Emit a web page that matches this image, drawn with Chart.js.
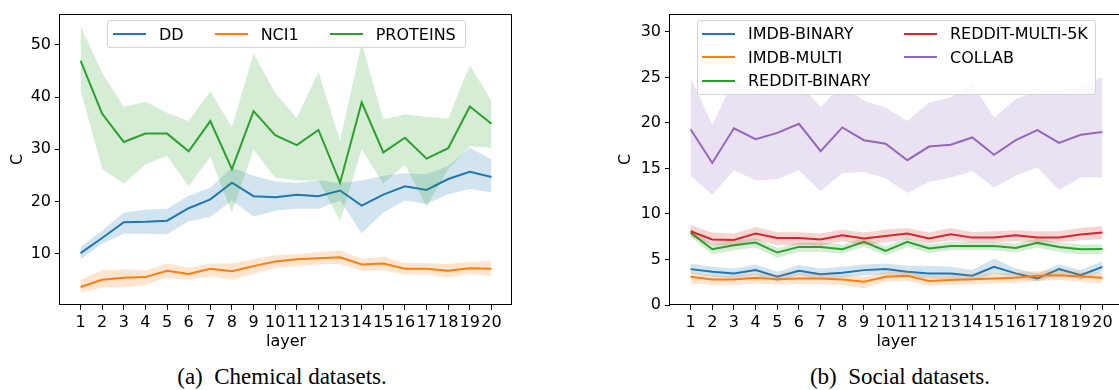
<!DOCTYPE html>
<html>
<head>
<meta charset="utf-8">
<script src="https://cdn.jsdelivr.net/npm/chart.js@4.4.0/dist/chart.umd.min.js"></script>
<style>
  html, body { margin: 0; padding: 0; background: #fff; }
  body { width: 1119px; height: 390px; position: relative; overflow: hidden; font-family: "DejaVu Sans", sans-serif; }
  canvas { position: absolute; top: 0; }
  #chartA { left: 0; }
  #chartB { left: 610px; }
  .legend { position: absolute; box-sizing: border-box; border: 1px solid #d4d4d4; border-radius: 3px;
            background: rgba(255, 255, 255, 0.8); font-size: 16px; color: #000; z-index: 2; }
  .legend .item { display: flex; align-items: center; white-space: nowrap; }
  .legend .swatch { display: inline-block; width: 33px; height: 2px; margin-right: 13px; }
  #legA { left: 107px; top: 20px; width: 359px; height: 28px; display: flex; align-items: center; padding-left: 5px; }
  #legA .item { margin-right: 31px; }
  #legB { left: 697px; top: 20px; width: 399px; height: 75px; display: grid; grid-auto-flow: column;
          grid-template-rows: repeat(3, 23.5px); grid-template-columns: 202px auto; padding: 1px 0 0 4px; }
  .caption { position: absolute; top: 364px; width: 400px; text-align: center; font-family: "Liberation Serif", serif;
             font-size: 23px; line-height: 26px; color: #000; }
</style>
</head>
<body>
<canvas id="chartA" width="540" height="360"></canvas>
<canvas id="chartB" width="520" height="360"></canvas>
<div class="legend" id="legA"></div>
<div class="legend" id="legB"></div>
<div class="caption" style="left:82px">(a)&nbsp; Chemical datasets.</div>
<div class="caption" style="left:700px">(b)&nbsp; Social datasets.</div>
<script>
// x axis
const layers = [1, 2, 3, 4, 5, 6, 7, 8, 9, 10, 11, 12, 13, 14, 15, 16, 17, 18, 19, 20];
const cTicksA = [10, 20, 30, 40, 50];
const cTicksB = [0, 5, 10, 15, 20, 25, 30];

// (a) chemical datasets
const chemNames = ["DD", "NCI1", "PROTEINS"];
const ddMean = [10.1, 13.0, 16.0, 16.1, 16.3, 18.7, 20.4, 23.6, 21.0, 20.8, 21.3, 21.0, 22.1, 19.2, 21.3, 22.9, 22.2, 24.3, 25.7, 24.7];
const ddUpper = [11.3, 14.4, 17.9, 18.4, 18.6, 21.1, 22.6, 26.5, 24.9, 23.8, 23.6, 24.0, 23.6, 24.0, 24.9, 25.4, 25.2, 26.8, 30.3, 28.1];
const ddLower = [8.9, 11.9, 13.8, 13.8, 13.7, 16.2, 17.0, 20.2, 17.1, 18.2, 18.6, 18.6, 20.2, 13.9, 17.9, 20.2, 19.5, 21.4, 22.4, 21.7];
const nci1Mean = [3.6, 5.0, 5.35, 5.5, 6.7, 6.1, 7.1, 6.6, 7.6, 8.5, 8.9, 9.1, 9.3, 7.9, 8.1, 7.1, 7.1, 6.7, 7.2, 7.1];
const nci1Upper = [5.0, 6.8, 7.0, 6.8, 8.1, 7.3, 8.1, 8.1, 8.9, 9.7, 9.9, 10.3, 10.6, 9.0, 9.4, 8.2, 8.2, 8.0, 8.4, 8.6];
const nci1Lower = [2.5, 3.5, 3.5, 4.0, 5.4, 5.0, 5.7, 5.0, 6.1, 7.3, 7.6, 7.9, 8.0, 6.7, 6.8, 6.0, 6.0, 5.4, 6.1, 5.7];
const proteinsMean = [47.0, 36.8, 31.4, 33.0, 33.0, 29.6, 35.4, 26.2, 37.3, 32.7, 30.8, 33.7, 23.6, 39.0, 29.4, 32.2, 28.2, 30.2, 38.2, 34.9];
const proteinsUpper = [53.6, 44.6, 38.1, 39.1, 37.0, 35.4, 41.1, 34.2, 48.4, 40.8, 36.0, 44.8, 31.6, 50.3, 35.7, 36.7, 36.2, 35.9, 46.1, 39.3];
const proteinsLower = [41.4, 26.2, 23.4, 27.1, 28.7, 22.9, 28.5, 17.9, 29.9, 24.6, 24.0, 24.0, 16.3, 30.0, 23.4, 27.1, 19.0, 26.2, 30.6, 30.3];

// (b) social datasets
const socialNames = ["IMDB-BINARY", "IMDB-MULTI", "REDDIT-BINARY", "REDDIT-MULTI-5K", "COLLAB"];
const imdbBinMean = [3.94, 3.65, 3.47, 3.83, 3.1, 3.76, 3.39, 3.54, 3.83, 3.94, 3.65, 3.47, 3.47, 3.21, 4.19, 3.47, 2.92, 3.94, 3.28, 4.19];
const imdbBinUpper = [4.56, 4.19, 4.01, 4.45, 3.65, 4.38, 4.01, 4.19, 4.45, 4.56, 4.3, 4.3, 4.19, 3.83, 5.1, 4.01, 3.47, 4.45, 3.83, 4.81];
const imdbBinLower = [3.47, 3.1, 2.92, 3.28, 2.55, 3.28, 2.84, 2.99, 3.28, 3.36, 3.1, 2.92, 2.84, 2.63, 3.47, 2.99, 2.55, 3.36, 2.74, 3.65];
const imdbMultiMean = [3.1, 2.81, 2.81, 2.99, 2.84, 2.92, 2.92, 2.81, 2.55, 3.1, 3.21, 2.63, 2.74, 2.84, 2.92, 2.99, 3.21, 3.28, 3.14, 2.99];
const imdbMultiUpper = [3.65, 3.28, 3.28, 3.47, 3.36, 3.47, 3.43, 3.36, 3.1, 3.65, 3.72, 3.21, 3.28, 3.39, 3.47, 3.58, 3.72, 3.83, 3.65, 3.58];
const imdbMultiLower = [2.37, 2.19, 2.19, 2.37, 2.26, 2.3, 2.3, 2.19, 1.83, 2.55, 2.63, 2.11, 2.19, 2.26, 2.37, 2.41, 2.63, 2.74, 2.55, 2.37];
const redditBinMean = [7.95, 6.13, 6.56, 6.86, 5.76, 6.38, 6.38, 6.13, 6.93, 5.95, 6.93, 6.2, 6.49, 6.49, 6.49, 6.27, 6.82, 6.38, 6.13, 6.16];
const redditBinUpper = [8.4, 6.64, 7.08, 7.37, 6.27, 6.86, 6.86, 6.64, 7.37, 6.49, 7.37, 6.64, 6.93, 6.93, 6.93, 6.75, 7.3, 6.86, 6.64, 6.64];
const redditBinLower = [7.47, 5.54, 6.0, 6.31, 5.18, 5.83, 5.83, 5.65, 6.38, 5.47, 6.38, 5.72, 6.02, 6.02, 6.02, 5.76, 6.31, 5.83, 5.54, 5.61];
const redditMultiMean = [8.1, 7.2, 7.15, 7.84, 7.37, 7.35, 7.19, 7.66, 7.3, 7.58, 7.84, 7.3, 7.77, 7.4, 7.4, 7.66, 7.4, 7.4, 7.73, 7.95];
const redditMultiUpper = [8.75, 7.95, 7.85, 8.57, 8.0, 8.0, 7.85, 8.3, 7.95, 8.3, 8.46, 7.95, 8.46, 8.02, 8.1, 8.2, 8.1, 8.1, 8.46, 8.68];
const redditMultiLower = [7.5, 6.6, 6.5, 7.1, 6.6, 6.6, 6.5, 7.0, 6.56, 6.9, 7.22, 6.75, 7.11, 6.86, 6.86, 7.0, 6.86, 6.86, 7.11, 7.22];
const collabMean = [19.3, 15.6, 19.4, 18.2, 18.9, 19.9, 16.9, 19.5, 18.1, 17.7, 15.9, 17.4, 17.6, 18.4, 16.5, 18.1, 19.2, 17.8, 18.7, 19.0];
const collabUpper = [25.0, 19.8, 24.7, 23.5, 24.0, 24.5, 21.7, 24.3, 22.4, 21.7, 20.2, 22.2, 22.8, 24.3, 20.6, 22.6, 23.5, 23.5, 24.0, 25.0];
const collabLower = [14.2, 12.1, 14.8, 13.7, 13.8, 14.8, 12.5, 14.5, 14.6, 13.9, 12.3, 13.5, 14.0, 14.7, 12.9, 14.2, 15.1, 12.6, 14.0, 14.0];

const lineColors = ["#1f77b4", "#ff7f0e", "#2ca02c", "#d62728", "#9467bd"];
const bandColors = ["rgba(31,119,180,0.2)", "rgba(255,127,14,0.2)", "rgba(44,160,44,0.2)",
                    "rgba(214,39,40,0.2)", "rgba(148,103,189,0.2)"];

Chart.defaults.font.family = "DejaVu Sans";
Chart.defaults.color = "#000";

function toXY(values) {
  return layers.map((l, i) => ({ x: l, y: values[i] }));
}

// mean line + shaded band (upper fills down to lower) per series
function bandSets(means, uppers, lowers) {
  const sets = [];
  means.forEach((m, i) => {
    const ord = 100 - 2 * i;
    sets.push({ data: toXY(m), borderColor: lineColors[i], borderWidth: 2, pointRadius: 0, fill: false, order: ord });
    sets.push({ data: toXY(uppers[i]), borderColor: "rgba(0,0,0,0)", backgroundColor: bandColors[i], borderWidth: 0,
                pointRadius: 0, fill: "+1", order: ord - 1 });
    sets.push({ data: toXY(lowers[i]), borderColor: "rgba(0,0,0,0)", borderWidth: 0, pointRadius: 0, fill: false, order: ord - 1 });
  });
  return sets;
}

// matplotlib style frame round the plot area
const boxPlugin = {
  id: "box",
  afterDraw(chart) {
    const { ctx, chartArea: a } = chart;
    ctx.save();
    ctx.strokeStyle = "#000";
    ctx.lineWidth = 1;
    ctx.strokeRect(Math.round(a.left) - 0.5, Math.round(a.top) + 0.5,
                   Math.round(a.right) - Math.round(a.left), Math.round(a.bottom) - Math.round(a.top) - 1);
    ctx.restore();
  }
};

function makeChart(id, datasets, yMin, yMax, yTicks, yWidth, yTitlePad, rightPad) {
  return new Chart(document.getElementById(id), {
    type: "line",
    data: { datasets: datasets },
    options: {
      responsive: false,
      animation: false,
      layout: { padding: { top: 12, right: rightPad, left: 0, bottom: 0 } },
      plugins: { legend: { display: false }, tooltip: { enabled: false } },
      elements: { line: { tension: 0 } },
      scales: {
        x: {
          type: "linear",
          min: 0.05,
          max: 20.95,
          afterBuildTicks: (s) => { s.ticks = layers.map((v) => ({ value: v })); },
          afterFit: (s) => { s.height = 55; },
          grid: { drawOnChartArea: false, drawTicks: true, tickLength: 5, color: "#000" },
          border: { display: false },
          ticks: { font: { size: 16 }, padding: 3, maxRotation: 0, autoSkip: false, callback: (v) => String(v) },
          title: { display: true, text: "layer", font: { size: 16 }, padding: { top: 0, bottom: 9 } }
        },
        y: {
          min: yMin,
          max: yMax,
          afterBuildTicks: (s) => { s.ticks = yTicks.map((v) => ({ value: v })); },
          afterFit: (s) => { s.width = yWidth; },
          grid: { drawOnChartArea: false, drawTicks: true, tickLength: 5, color: "#000" },
          border: { display: false },
          ticks: { font: { size: 16 }, padding: 4, callback: (v) => String(v) },
          title: { display: true, text: "C", font: { size: 16 }, padding: { top: yTitlePad, bottom: 0 } }
        }
      }
    },
    plugins: [boxPlugin]
  });
}

makeChart("chartA",
  bandSets([ddMean, nci1Mean, proteinsMean], [ddUpper, nci1Upper, proteinsUpper], [ddLower, nci1Lower, proteinsLower]),
  0.15, 56, cTicksA, 60, 8, 28);

makeChart("chartB",
  bandSets([imdbBinMean, imdbMultiMean, redditBinMean, redditMultiMean, collabMean],
           [imdbBinUpper, imdbMultiUpper, redditBinUpper, redditMultiUpper, collabUpper],
           [imdbBinLower, imdbMultiLower, redditBinLower, redditMultiLower, collabLower]),
  0, 32, cTicksB, 60, 6.4, 7);

function buildLegend(el, names) {
  names.forEach((name, i) => {
    const item = document.createElement("div");
    item.className = "item";
    item.innerHTML = '<span class="swatch" style="background:' + lineColors[i] + '"></span>' + name;
    el.appendChild(item);
  });
}
buildLegend(document.getElementById("legA"), chemNames);
buildLegend(document.getElementById("legB"), socialNames);
</script>
</body>
</html>
